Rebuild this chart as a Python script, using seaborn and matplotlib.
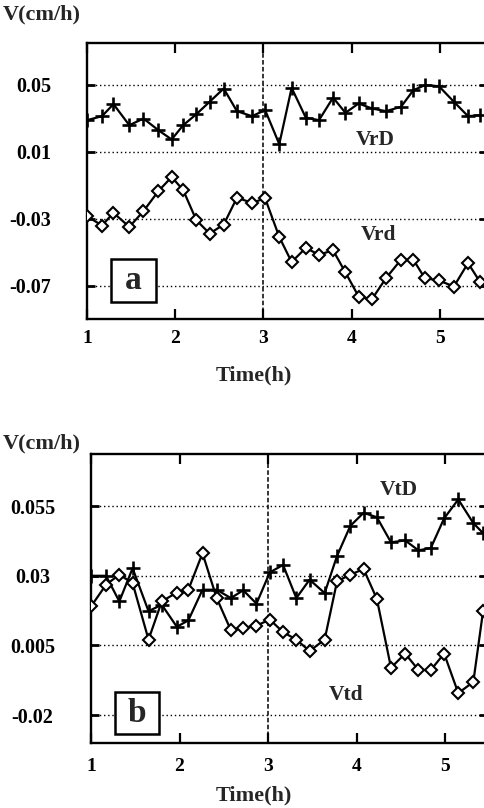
import matplotlib
matplotlib.use("Agg")
import matplotlib.pyplot as plt
import seaborn as sns
from matplotlib.patches import Rectangle

# ---------------------------
# Data
# ---------------------------

time_a = [1.00, 1.17, 1.30, 1.48, 1.64, 1.81, 1.96, 2.09, 2.24, 2.39,
          2.55, 2.70, 2.87, 3.02, 3.18, 3.32, 3.48, 3.63, 3.79, 3.93,
          4.08, 4.23, 4.39, 4.56, 4.70, 4.83, 4.99, 5.16, 5.32, 5.46]
vrD = [0.0287, 0.0311, 0.0383, 0.0257, 0.0297, 0.0227, 0.0172, 0.0257, 0.0323, 0.0397,
       0.0476, 0.0341, 0.0311, 0.0347, 0.0144, 0.0480, 0.0303, 0.0287, 0.0422, 0.0331,
       0.0387, 0.0357, 0.0341, 0.0367, 0.0466, 0.0496, 0.0490, 0.0397, 0.0311, 0.0317]
vrd = [-0.0286, -0.0342, -0.0266, -0.0350, -0.0256, -0.0136, -0.0052, -0.0130, -0.0310, -0.0390,
       -0.0336, -0.0176, -0.0206, -0.0180, -0.0410, -0.0560, -0.0476, -0.0516, -0.0490, -0.0622,
       -0.0766, -0.0782, -0.0656, -0.0546, -0.0546, -0.0656, -0.0670, -0.0706, -0.0566, -0.0682]

time_b = [1.00, 1.17, 1.32, 1.47, 1.65, 1.80, 1.97, 2.10, 2.26, 2.42,
          2.58, 2.72, 2.87, 3.02, 3.17, 3.32, 3.47, 3.64, 3.78, 3.93,
          4.08, 4.23, 4.39, 4.55, 4.70, 4.84, 4.99, 5.15, 5.32, 5.43]
vtD = [0.0300, 0.0300, 0.0208, 0.0327, 0.0173, 0.0196, 0.0117, 0.0140, 0.0250, 0.0250,
       0.0220, 0.0248, 0.0200, 0.0312, 0.0339, 0.0220, 0.0286, 0.0238, 0.0371, 0.0479,
       0.0526, 0.0510, 0.0420, 0.0427, 0.0391, 0.0400, 0.0506, 0.0574, 0.0489, 0.0453]
vtd = [0.0190, 0.0268, 0.0304, 0.0274, 0.0071, 0.0208, 0.0240, 0.0250, 0.0381, 0.0220,
       0.0105, 0.0113, 0.0121, 0.0143, 0.0098, 0.0071, 0.0030, 0.0071, 0.0280, 0.0304,
       0.0324, 0.0217, -0.0030, 0.0021, -0.0038, -0.0038, 0.0021, -0.0121, -0.0081, 0.0173]

x_ticks = [1, 2, 3, 4, 5]
x_labels = ["1", "2", "3", "4", "5"]
y_ticks_a = [0.05, 0.01, -0.03, -0.07]
y_labels_a = ["0.05", "0.01", "-0.03", "-0.07"]
y_ticks_b = [0.055, 0.03, 0.005, -0.02]
y_labels_b = ["0.055", "0.03", "0.005", "-0.02"]

sns.set_theme(style="white")
plt.rcParams["font.family"] = ["Liberation Serif", "DejaVu Serif"]
plt.rcParams["font.weight"] = "bold"

W, H = 485, 808
fig = plt.figure(figsize=(W / 100, H / 100), dpi=100)


def px_axes(left, top, right, bottom):
    return fig.add_axes([left / W, 1 - bottom / H, (right - left) / W, (bottom - top) / H])


def style_panel(ax, xlim, ylim, yticks, ylabels, ypad, xpad, center_labels):
    ax.set_xlim(*xlim)
    ax.set_ylim(*ylim)
    ax.set_xticks(x_ticks)
    ax.set_xticklabels(x_labels, fontsize=14, fontweight="bold")
    ax.set_yticks(yticks)
    ax.set_yticklabels(ylabels, fontsize=14.5, fontweight="bold")
    ax.grid(axis="y", color="black", linestyle=(0, (1, 2)), linewidth=1.0)
    ax.grid(axis="x", visible=False)
    ax.set_axisbelow(True)
    ax.axvline(3, color="black", linestyle=(0, (3, 1.5)), linewidth=1.1, zorder=1)
    ax.tick_params(axis="x", direction="in", length=7, width=1.6,
                   top=True, bottom=True, pad=xpad, colors="black")
    ax.tick_params(axis="y", direction="in", length=6, width=2.0,
                   left=True, right=True, pad=ypad, colors="black")
    if center_labels:
        for lab in ax.get_yticklabels():
            lab.set_horizontalalignment("center")
    for spine in ax.spines.values():
        spine.set_color("black")
        spine.set_linewidth(1.7)
    ax.set_xlabel("")
    ax.set_ylabel("")


def letter_box(ax, x0, y0, w, h, letter):
    ax.add_patch(Rectangle((x0, y0), w, h, transform=ax.transAxes,
                           facecolor="white", edgecolor="black",
                           linewidth=1.8, zorder=4))
    ax.text(x0 + w / 2, y0 + h / 2, letter, transform=ax.transAxes,
            ha="center", va="center", fontsize=24, fontweight="bold", zorder=5)


plus_kws = dict(color="black", linewidth=1.6, marker="+", markersize=10.5,
                markeredgewidth=1.9, markeredgecolor="black")
diamond_kws = dict(color="black", linewidth=1.6, marker="D", markersize=6,
                   markerfacecolor="white", markeredgewidth=1.5, markeredgecolor="black")

# ---------------------------
# Panel a
# ---------------------------

ax_a = px_axes(87, 43, 487, 319)
sns.lineplot(x=time_a, y=vrD, ax=ax_a, zorder=3, **plus_kws)
sns.lineplot(x=time_a, y=vrd, ax=ax_a, zorder=3, **diamond_kws)
style_panel(ax_a, (1, 1 + 400 / 88.2), (-0.090, 0.0748),
            y_ticks_a, y_labels_a, ypad=26, xpad=8, center_labels=False)
ax_a.text(4.27, 0.017, "VrD", ha="center", va="center", fontsize=15.5, fontweight="bold")
ax_a.text(4.30, -0.0396, "Vrd", ha="center", va="center", fontsize=15.5, fontweight="bold")
letter_box(ax_a, 0.06, 0.06, 0.112, 0.156, "a")

# ---------------------------
# Panel b
# ---------------------------

ax_b = px_axes(91, 454, 487, 743)
sns.lineplot(x=time_b, y=vtD, ax=ax_b, zorder=3, **plus_kws)
sns.lineplot(x=time_b, y=vtd, ax=ax_b, zorder=3, **diamond_kws)
style_panel(ax_b, (1, 1 + 396 / 88.5), (-0.0300, 0.0737),
            y_ticks_b, y_labels_b, ypad=42, xpad=11, center_labels=True)
ax_b.text(4.48, 0.0607, "VtD", ha="center", va="center", fontsize=15.5, fontweight="bold")
ax_b.text(3.88, -0.0128, "Vtd", ha="center", va="center", fontsize=15.5, fontweight="bold")
letter_box(ax_b, 0.06, 0.031, 0.112, 0.145, "b")

# axis titles
fig.text(3 / W, 1 - 14 / H, "V(cm/h)", ha="left", va="center", fontsize=16, fontweight="bold")
fig.text(3 / W, 1 - 443 / H, "V(cm/h)", ha="left", va="center", fontsize=16, fontweight="bold")
fig.text(254 / W, 1 - 375 / H, "Time(h)", ha="center", va="center", fontsize=16, fontweight="bold")
fig.text(254 / W, 1 - 795 / H, "Time(h)", ha="center", va="center", fontsize=16, fontweight="bold")

plt.savefig("out.png", dpi=100)
